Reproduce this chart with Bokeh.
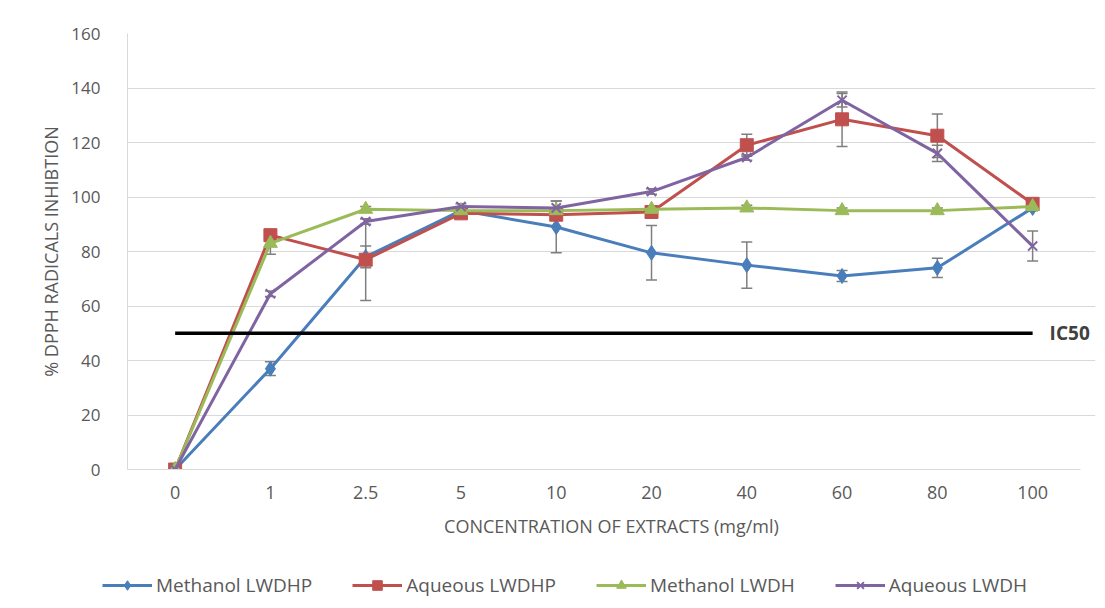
from bokeh.plotting import figure
from bokeh.layouts import column
from bokeh.models import (ColumnDataSource, Whisker, TeeHead, Range1d,
                          Legend, LegendItem, FixedTicker, Label)
from bokeh.embed import file_html
from bokeh.resources import INLINE

# ---------------- data ----------------
conc = ["0", "1", "2.5", "5", "10", "20", "40", "60", "80", "100"]

meth_lwdhp = [0, 37, 78, 95, 89, 79.5, 75, 71, 74, 96]
meth_lwdhp_err = [0, 2.5, 4, 1, 9.5, 10, 8.5, 2, 3.5, 1]

aq_lwdhp = [0, 86, 77, 94, 93.5, 94.5, 119, 128.5, 122.5, 97.5]
aq_lwdhp_err = [0, 1, 15, 1, 1, 1, 4, 10, 8, 1]

meth_lwdh = [0, 83, 95.5, 95, 95, 95.5, 96, 95, 95, 96.5]
meth_lwdh_err = [0, 4, 1, 1, 1, 1, 1, 1, 1, 1]

aq_lwdh = [0, 64.5, 91, 96.5, 96, 102, 114.5, 135.5, 116, 82]
aq_lwdh_err = [0, 1, 1, 1, 2.5, 1, 1, 2.5, 3, 5.5]

ic50_x = ["0", "100"]
ic50_y = [50, 50]
ic50_label = "IC50"

y_ticks = [0, 20, 40, 60, 80, 100, 120, 140, 160]

series = [
    ("Methanol LWDHP", meth_lwdhp, meth_lwdhp_err, "#4a7ebb", "diamond", 15),
    ("Aqueous LWDHP", aq_lwdhp, aq_lwdhp_err, "#c0504d", "square", 13),
    ("Methanol LWDH", meth_lwdh, meth_lwdh_err, "#9bbb59", "triangle", 14),
    ("Aqueous LWDH", aq_lwdh, aq_lwdh_err, "#8064a2", "x", 13),
]

FONT = "Open Sans"
TXT = "#595959"

# category positions on a linear scale (index of each category)
xpos = list(range(len(conc)))
pos_of = {c: i for i, c in enumerate(conc)}
cat_lo, cat_hi = -0.5, len(conc) - 0.5

p = figure(x_range=Range1d(cat_lo, cat_hi + 0.16),
           y_range=Range1d(y_ticks[0], y_ticks[-1]),
           width=1100, height=560, output_backend="svg", toolbar_location=None,
           min_border_left=127, min_border_right=5, min_border_top=33,
           min_border_bottom=91)
p.frame_align = False
p.outline_line_color = None
p.background_fill_color = "white"
p.border_fill_color = "white"

p.xgrid.grid_line_color = None
p.ygrid.grid_line_color = "#d9d9d9"
p.ygrid.grid_line_width = 1
p.ygrid.bounds = (cat_lo, cat_hi)
p.yaxis.ticker = FixedTicker(ticks=y_ticks)
p.xaxis.ticker = FixedTicker(ticks=xpos)
p.xaxis.major_label_overrides = {i: c for i, c in zip(xpos, conc)}
p.xaxis.bounds = (cat_lo, cat_hi)

for ax in (p.xaxis[0], p.yaxis[0]):
    ax.axis_line_color = "#d9d9d9"
    ax.major_tick_line_color = None
    ax.minor_tick_line_color = None
    ax.major_tick_out = 0
    ax.major_tick_in = 0
    ax.major_label_text_font = FONT
    ax.major_label_text_color = TXT
    ax.major_label_text_font_size = "17px"
    ax.axis_label_text_font = FONT
    ax.axis_label_text_color = TXT
    ax.axis_label_text_font_size = "18px"
    ax.axis_label_text_font_style = "normal"

p.xaxis.major_label_text_font_size = "18px"
p.yaxis.major_label_standoff = 27
p.yaxis.axis_label = "% DPPH RADICALS INHIBTION"
p.yaxis.axis_label_standoff = 5
p.xaxis.major_label_standoff = 16
p.xaxis.axis_label = "CONCENTRATION OF EXTRACTS (mg/ml)"
p.xaxis.axis_label_standoff = 12

# legend-only figure under the chart
lg = figure(width=1100, height=44, output_backend="svg", toolbar_location=None,
            x_axis_type=None, y_axis_type=None, min_border=0,
            x_range=Range1d(0, 1), y_range=Range1d(0, 1))
lg.frame_align = False
lg.outline_line_color = None
lg.grid.visible = False

items = []
for name, vals, errs, color, marker, size in series:
    src = ColumnDataSource(dict(
        x=xpos, y=vals,
        lo=[v - e for v, e in zip(vals, errs)],
        hi=[v + e for v, e in zip(vals, errs)],
    ))
    p.line("x", "y", source=src, line_color=color, line_width=3)
    w = Whisker(base="x", lower="lo", upper="hi", source=src, dimension="height",
                line_color="#7f7f7f", line_width=1.5,
                upper_head=TeeHead(size=11, line_color="#7f7f7f", line_width=1.5),
                lower_head=TeeHead(size=11, line_color="#7f7f7f", line_width=1.5))
    p.add_layout(w)
    mk = dict(marker=marker, size=size, line_color=color)
    if marker == "x":
        mk["line_width"] = 2
    else:
        mk["fill_color"] = color
    p.scatter("x", "y", source=src, **mk)
    # legend swatches (placed outside the legend figure's visible range)
    sw = ColumnDataSource(dict(x=[-5, -4], y=[-5, -5]))
    lr = lg.line("x", "y", source=sw, line_color=color, line_width=3)
    sr = lg.scatter("x", "y", source=sw, **dict(mk, size=size - 3))
    items.append(LegendItem(label=name, renderers=[lr, sr]))

# IC50 line
p.line([pos_of[c] for c in ic50_x], ic50_y, line_color="black", line_width=3.5)
p.add_layout(Label(x=pos_of[ic50_x[1]], y=ic50_y[1], text=ic50_label, x_offset=17,
                   text_baseline="middle", text_align="left", text_font=FONT,
                   text_font_size="19px", text_font_style="bold",
                   text_color="#404040"))

legend = Legend(items=items, orientation="horizontal", location=(102, 6),
                padding=0, margin=0, spacing=40, glyph_width=50, glyph_height=24,
                label_standoff=4, border_line_color=None, background_fill_alpha=0,
                label_text_font=FONT, label_text_font_size="19px",
                label_text_color=TXT)
lg.add_layout(legend, "center")

layout = column(p, lg, spacing=0)
open("out.html", "w").write(file_html(layout, INLINE))
